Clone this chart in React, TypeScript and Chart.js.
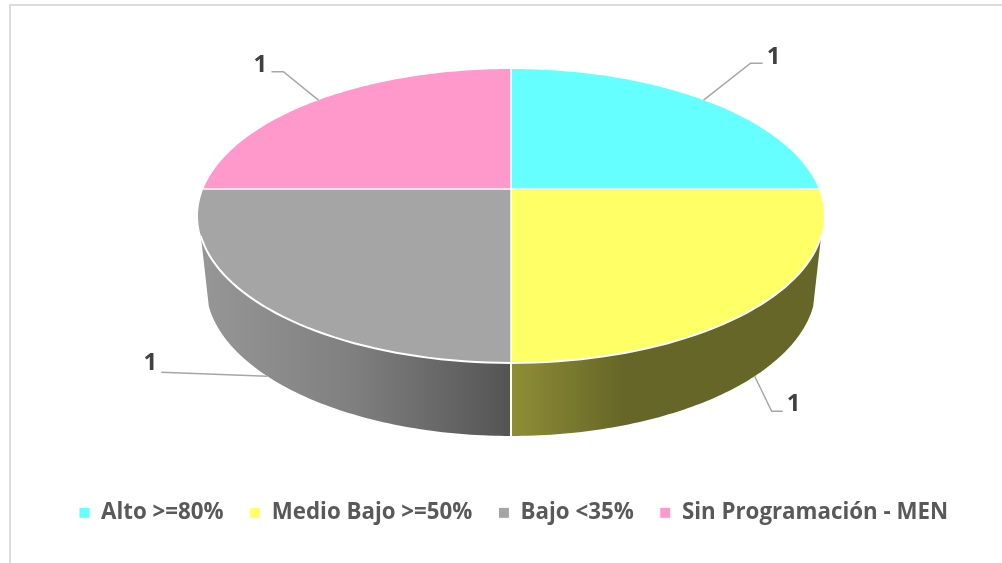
import React, { useEffect, useRef } from "react";
import { Chart, registerables } from "chart.js";

Chart.register(...registerables);

const categories = ["Alto >=80%", "Medio Bajo >=50%", "Bajo <35%", "Sin Programación - MEN"];
const values = [1, 1, 1, 1];
const colors = ["#66FFFF", "#FFFF66", "#A5A5A5", "#FF99CC"];

// projection of the unit pie on to the tilted top face
const CX = 511;
const APEX_Y = 189;
const SCALE_X = 307.7;
const SCALE_Y = 142;
const TILT = -0.1837;
// bottom face of the cylinder, relative to the top face's ellipse
const ELLIPSE_Y = 216;
const BOTTOM_Y = 286;
const BOTTOM_SX = 305 / 313;
const BOTTOM_SY = 150 / 147;
const SILHOUETTE = 0.317;

// leader line offsets per slice, from its rim anchor: elbow, end, label centre
const leaders = [
  { elbow: [47, -37], end: [59, -37], label: [70, -43], lower: false },
  { elbow: [17, 35], end: [28, 35], label: [39, 28], lower: true },
  { elbow: [-106, -4], end: [-106, -4], label: [-117, -13], lower: true },
  { elbow: [-35, -28.5], end: [-47, -28.5], label: [-58, -35], lower: false },
];

const top = (a: number) => {
  const u = Math.cos(a);
  const v = Math.sin(a);
  const w = 1 + TILT * v;
  return [CX + (SCALE_X * u) / w, APEX_Y + (SCALE_Y * v) / w];
};
const bottom = (a: number) => {
  const [x, y] = top(a);
  return [CX + (x - CX) * BOTTOM_SX, BOTTOM_Y + (y - ELLIPSE_Y) * BOTTOM_SY];
};

const trace = (ctx: CanvasRenderingContext2D, f: (a: number) => number[], from: number, to: number) => {
  const n = 80;
  for (let i = 0; i <= n; i++) {
    const [x, y] = f(from + ((to - from) * i) / n);
    ctx.lineTo(x, y);
  }
};

const wall = (ctx: CanvasRenderingContext2D, from: number, to: number, fill: CanvasGradient) => {
  ctx.beginPath();
  trace(ctx, top, from, to);
  trace(ctx, bottom, to, from);
  ctx.closePath();
  ctx.fillStyle = fill;
  ctx.fill();
};

const pie3d = {
  id: "pie3d",
  beforeDatasetDraw(chart: any) {
    const ctx: CanvasRenderingContext2D = chart.ctx;
    const arcs = chart.getDatasetMeta(0).data;
    ctx.save();

    const yellow = ctx.createLinearGradient(CX, 0, 824, 0);
    yellow.addColorStop(0, "#8F8E36");
    yellow.addColorStop(0.36, "#666628");
    yellow.addColorStop(1, "#666628");
    const grey = ctx.createLinearGradient(198, 0, CX, 0);
    grey.addColorStop(0, "#979797");
    grey.addColorStop(0.5, "#7F7F7F");
    grey.addColorStop(1, "#545454");
    wall(ctx, SILHOUETTE, arcs[1].endAngle, yellow);
    wall(ctx, arcs[2].startAngle, arcs[2].endAngle - SILHOUETTE, grey);

    // white seam between the two visible wall segments
    const [sx, sy] = top(arcs[1].endAngle);
    const [ex, ey] = bottom(arcs[1].endAngle);
    ctx.beginPath();
    ctx.moveTo(sx, sy);
    ctx.lineTo(ex, ey);
    ctx.strokeStyle = "#FFFFFF";
    ctx.lineWidth = 2;
    ctx.stroke();

    // top face, from the angles the library computed
    arcs.forEach((arc: any) => {
      ctx.beginPath();
      ctx.moveTo(CX, APEX_Y);
      trace(ctx, top, arc.startAngle, arc.endAngle);
      ctx.closePath();
      ctx.fillStyle = arc.options.backgroundColor;
      ctx.fill();
    });
    ctx.strokeStyle = "#FFFFFF";
    ctx.lineWidth = 1.5;
    arcs.forEach((arc: any) => {
      const [x, y] = top(arc.startAngle);
      ctx.beginPath();
      ctx.moveTo(CX, APEX_Y);
      ctx.lineTo(x, y);
      ctx.stroke();
    });
    // white rim where the top face meets the wall
    ctx.beginPath();
    trace(ctx, top, SILHOUETTE, arcs[2].endAngle - SILHOUETTE);
    ctx.lineWidth = 2;
    ctx.stroke();

    // leader lines and data labels
    arcs.forEach((arc: any, i: number) => {
      const mid = (arc.startAngle + arc.endAngle) / 2;
      const l = leaders[i];
      const [ax, ay] = l.lower ? bottom(mid) : top(mid);
      ctx.beginPath();
      ctx.moveTo(ax, ay);
      ctx.lineTo(ax + l.elbow[0], ay + l.elbow[1]);
      ctx.lineTo(ax + l.end[0], ay + l.end[1]);
      ctx.strokeStyle = "#A6A6A6";
      ctx.lineWidth = 1.5;
      ctx.stroke();
      ctx.fillStyle = "#404040";
      ctx.font = "bold 24px 'Open Sans'";
      ctx.textAlign = "center";
      ctx.textBaseline = "middle";
      ctx.fillText(String(values[i]), ax + l.label[0], ay + l.label[1]);
    });

    ctx.restore();
    return false;
  },
};

export default function App() {
  const ref = useRef<HTMLCanvasElement>(null);
  useEffect(() => {
    const chart = new Chart(ref.current as HTMLCanvasElement, {
      type: "pie",
      data: {
        labels: categories,
        datasets: [
          {
            data: values,
            backgroundColor: colors,
            borderColor: "#FFFFFF",
            borderWidth: 1,
          },
        ],
      },
      options: {
        responsive: false,
        animation: false,
        layout: { padding: { bottom: 29, left: 25 } },
        plugins: {
          tooltip: { enabled: false },
          legend: {
            position: "bottom",
            labels: {
              boxWidth: 11,
              boxHeight: 11,
              padding: 26,
              color: "#595959",
              font: { family: "'Open Sans'", size: 22.3, weight: "bold" },
            },
          },
        },
      },
      plugins: [pie3d],
    } as any);
    return () => chart.destroy();
  }, []);
  return (
    <div style={{ position: "absolute", left: 0, top: 0, width: 1002, height: 563, background: "#FFFFFF", overflow: "hidden" }}>
      <div
        style={{
          position: "absolute",
          left: 9,
          top: 4,
          width: 1000,
          height: 600,
          borderTop: "2px solid #DCDCDC",
          borderLeft: "2px solid #DCDCDC",
        }}
      />
      <canvas ref={ref} width={1002} height={563} style={{ position: "absolute", left: 0, top: 0, display: "block" }} />
    </div>
  );
}
